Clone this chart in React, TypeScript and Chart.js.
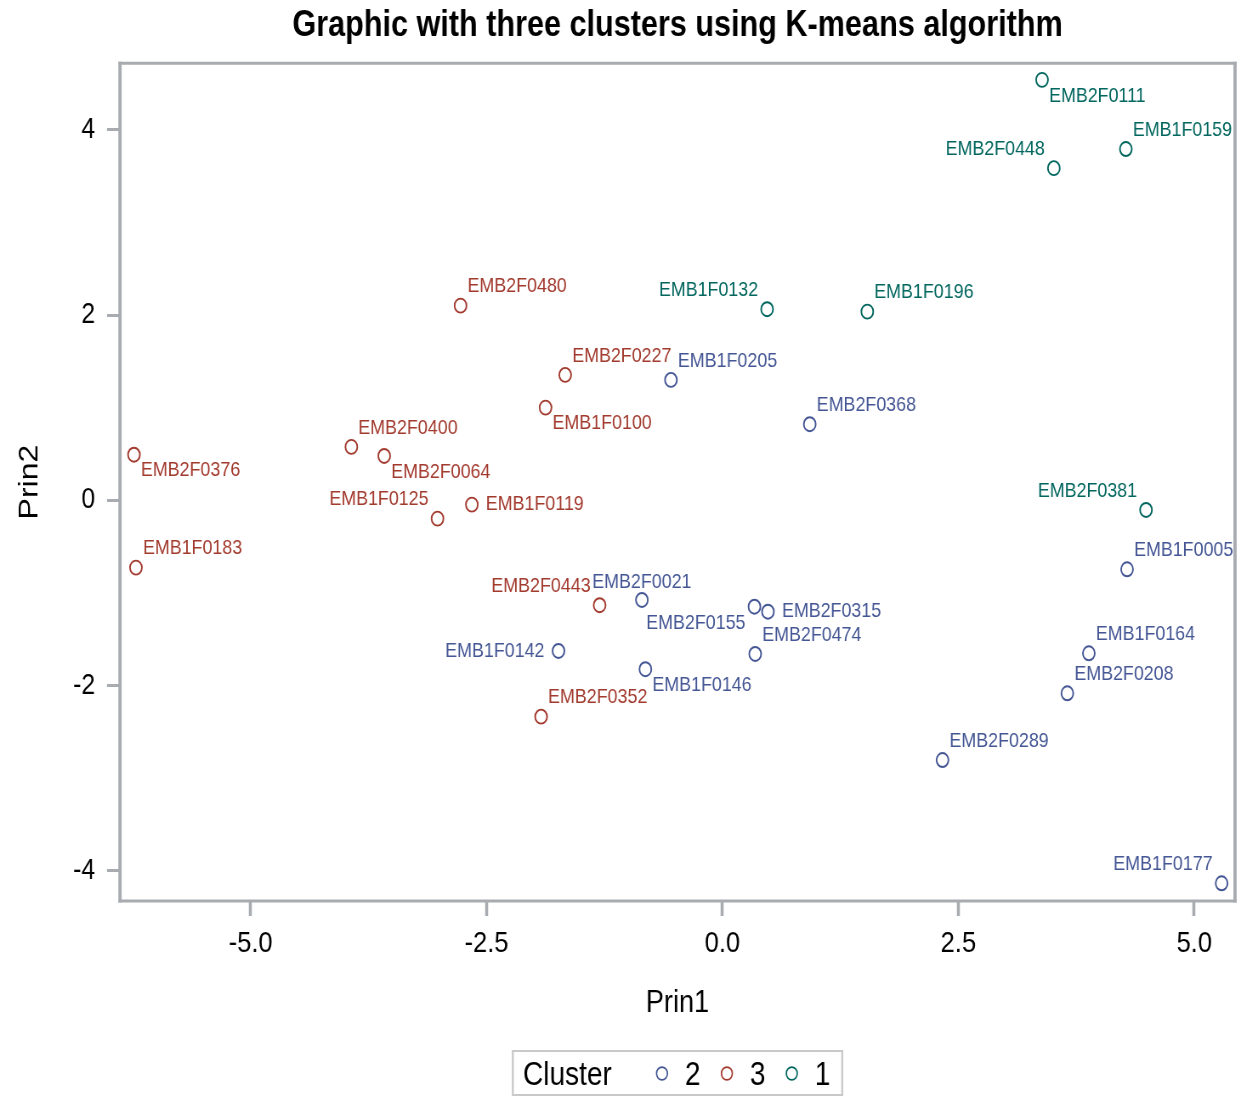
import React, { useEffect, useRef } from "react";
import { Chart, registerables } from "chart.js";

Chart.register(...registerables);

// ---------- page geometry ----------
const SQUISH = 0.85; // the reference is horizontally condensed
const VIEW_W = 1243;
const VIEW_H = 1097;
const CANVAS_W = Math.round(VIEW_W / SQUISH);
const PLOT_LEFT = 120 / SQUISH;
const PLOT_RIGHT = 1235 / SQUISH;
const PLOT_BOTTOM = 901;
const FONT = "'Liberation Sans', Arial, Helvetica, sans-serif";
const AXIS_COLOR = "#a8acb0";

// ---------- texts ----------
const TITLE = "Graphic with three clusters using K-means algorithm";
const X_TITLE = "Prin1";
const Y_TITLE = "Prin2";
const LEGEND_TITLE = "Cluster";

// ---------- axes ----------
const X_TICKS = [-5, -2.5, 0, 2.5, 5];
const Y_TICKS = [-4, -2, 0, 2, 4];
const X_MIN = -6.385;
const X_MAX = 5.432;
const Y_MIN = -4.324;
const Y_MAX = 4.72;

// ---------- series (legend order: 2, 3, 1) ----------
const CLUSTERS = ["2", "3", "1"];
const CLUSTER_COLORS = ["#445694", "#A23A2E", "#01665E"];

// Cluster 2
const C2_NAMES = ["EMB1F0205", "EMB2F0368", "EMB2F0021", "EMB2F0155", "EMB2F0315", "EMB2F0474", "EMB1F0146", "EMB1F0142", "EMB1F0005", "EMB1F0164", "EMB2F0208", "EMB2F0289", "EMB1F0177"];
const C2_X = [-0.546, 0.925, -0.854, 0.339, 0.482, 0.347, -0.817, -1.738, 4.288, 3.883, 3.655, 2.332, 5.29];
const C2_Y = [1.301, 0.823, -1.074, -1.147, -1.201, -1.657, -1.822, -1.625, -0.743, -1.65, -2.082, -2.802, -4.133];
const C2_LABEL_SIDE = ["ur", "ur", "uc", "ll", "r", "ur", "lr", "l", "ur", "ur", "ur", "ur", "ul"];

// Cluster 3
const C3_NAMES = ["EMB2F0480", "EMB2F0227", "EMB1F0100", "EMB2F0400", "EMB2F0064", "EMB2F0376", "EMB1F0125", "EMB1F0119", "EMB1F0183", "EMB2F0443", "EMB2F0352"];
const C3_X = [-2.776, -1.667, -1.875, -3.933, -3.585, -6.237, -3.02, -2.656, -6.216, -1.302, -1.922];
const C3_Y = [2.103, 1.355, 1.002, 0.578, 0.48, 0.494, -0.196, -0.045, -0.725, -1.131, -2.334];
const C3_LABEL_SIDE = ["ur", "ur", "lr", "ur", "lr", "lr", "ul", "r", "ur", "ul", "ur"];

// Cluster 1
const C1_NAMES = ["EMB2F0111", "EMB1F0159", "EMB2F0448", "EMB1F0132", "EMB1F0196", "EMB2F0381"];
const C1_X = [3.387, 4.275, 3.512, 0.473, 1.535, 4.489];
const C1_Y = [4.54, 3.793, 3.587, 2.064, 2.038, -0.103];
const C1_LABEL_SIDE = ["lr", "ur", "ul", "ul", "ur", "ul"];

// label placement relative to the marker (screen px)
const LABEL_OFFSETS: Record<string, { dx: number; dy: number; align: CanvasTextAlign }> = {
  ur: { dx: 7, dy: -19, align: "left" },
  lr: { dx: 7, dy: 16, align: "left" },
  ul: { dx: -9, dy: -19, align: "right" },
  ll: { dx: -9, dy: 17, align: "right" },
  r: { dx: 14, dy: 0, align: "left" },
  l: { dx: -14, dy: 0, align: "right" },
  uc: { dx: 0, dy: -18, align: "center" },
};

const framePlugin = {
  id: "frame",
  beforeDatasetsDraw(chart: any) {
    const { ctx, chartArea: a } = chart;
    ctx.save();
    ctx.strokeStyle = AXIS_COLOR;
    ctx.lineCap = "butt";
    const vw = 3.3 / SQUISH;
    ctx.lineWidth = vw;
    ctx.beginPath();
    ctx.moveTo(a.left, a.top - 1.5);
    ctx.lineTo(a.left, a.bottom + 1.5);
    ctx.moveTo(a.right, a.top - 1.5);
    ctx.lineTo(a.right, a.bottom + 1.5);
    ctx.stroke();
    ctx.lineWidth = 3;
    ctx.beginPath();
    ctx.moveTo(a.left - vw / 2, a.top);
    ctx.lineTo(a.right + vw / 2, a.top);
    ctx.moveTo(a.left - vw / 2, a.bottom);
    ctx.lineTo(a.right + vw / 2, a.bottom);
    ctx.stroke();
    ctx.restore();
  },
};

const labelPlugin = {
  id: "pointLabels",
  afterDatasetsDraw(chart: any) {
    const ctx = chart.ctx;
    ctx.save();
    ctx.font = `21px ${FONT}`;
    ctx.textBaseline = "middle";
    chart.data.datasets.forEach((ds: any, i: number) => {
      const meta = chart.getDatasetMeta(i);
      ctx.fillStyle = ds.borderColor;
      meta.data.forEach((pt: any, j: number) => {
        const o = LABEL_OFFSETS[ds.labelSides[j]];
        ctx.textAlign = o.align;
        ctx.fillText(ds.names[j], pt.x + o.dx / SQUISH, pt.y + o.dy);
      });
    });
    ctx.restore();
  },
};

const legendPlugin = {
  id: "clusterLegend",
  afterDraw(chart: any) {
    const { ctx, chartArea: a } = chart;
    const datasets = chart.data.datasets;
    ctx.save();
    ctx.font = `33px ${FONT}`;
    const titleW = ctx.measureText(LEGEND_TITLE).width;
    const itemWs = datasets.map((d: any) => ctx.measureText(d.label).width);
    const padL = 12, padR = 14, gapTitle = 52, markerToText = 34, gapItems = 24;
    let total = padL + titleW + gapTitle + padR;
    itemWs.forEach((w: number, i: number) => {
      total += markerToText + w + (i > 0 ? gapItems : 0);
    });
    const cx = (a.left + a.right) / 2;
    const left = cx - total / 2;
    const top = 1051, bottom = 1095, mid = 1074.5;
    // box
    ctx.strokeStyle = "#c9c9c9";
    ctx.lineWidth = 2;
    ctx.beginPath();
    ctx.moveTo(left, top);
    ctx.lineTo(left + total, top);
    ctx.moveTo(left, bottom);
    ctx.lineTo(left + total, bottom);
    ctx.stroke();
    ctx.lineWidth = 2 / SQUISH;
    ctx.beginPath();
    ctx.moveTo(left, top - 1);
    ctx.lineTo(left, bottom + 1);
    ctx.moveTo(left + total, top - 1);
    ctx.lineTo(left + total, bottom + 1);
    ctx.stroke();
    // texts
    ctx.fillStyle = "#000";
    ctx.textBaseline = "middle";
    ctx.textAlign = "left";
    let x = left + padL;
    ctx.fillText(LEGEND_TITLE, x, mid + 1);
    x += titleW + gapTitle;
    datasets.forEach((d: any, i: number) => {
      if (i > 0) x += gapItems;
      ctx.strokeStyle = d.borderColor;
      ctx.lineWidth = 1.7;
      ctx.beginPath();
      ctx.arc(x + 7, mid - 1, 6.4, 0, Math.PI * 2);
      ctx.stroke();
      ctx.fillStyle = "#000";
      ctx.fillText(d.label, x + markerToText, mid + 1);
      x += markerToText + itemWs[i];
    });
    ctx.restore();
  },
};

export default function App() {
  const ref = useRef<HTMLCanvasElement>(null);

  useEffect(() => {
    const canvas = ref.current;
    if (!canvas) return;
    const groups = [
      { names: C2_NAMES, xs: C2_X, ys: C2_Y, sides: C2_LABEL_SIDE },
      { names: C3_NAMES, xs: C3_X, ys: C3_Y, sides: C3_LABEL_SIDE },
      { names: C1_NAMES, xs: C1_X, ys: C1_Y, sides: C1_LABEL_SIDE },
    ];
    const datasets: any[] = groups.map((g, i) => ({
      label: CLUSTERS[i],
      data: g.xs.map((x, j) => ({ x, y: g.ys[j] })),
      names: g.names,
      labelSides: g.sides,
      borderColor: CLUSTER_COLORS[i],
      backgroundColor: "rgba(0,0,0,0)",
      pointStyle: "circle",
      pointRadius: 7,
      pointHoverRadius: 7,
      pointBorderWidth: 1.9,
      showLine: false,
    }));

    const chart = new Chart(canvas, {
      type: "scatter",
      data: { datasets },
      options: {
        animation: false,
        responsive: false,
        devicePixelRatio: 1,
        events: [],
        layout: { padding: { left: 0, right: CANVAS_W - PLOT_RIGHT, top: 0, bottom: 0 } },
        plugins: {
          legend: { display: false },
          tooltip: { enabled: false },
          title: {
            display: true,
            text: TITLE,
            fullSize: false,
            color: "#000",
            font: { family: FONT, size: 36, weight: "bold" },
            padding: { top: 4, bottom: 16 },
          },
        },
        scales: {
          x: {
            type: "linear",
            position: "bottom",
            min: X_MIN,
            max: X_MAX,
            afterBuildTicks: (s: any) => {
              s.ticks = X_TICKS.map((v) => ({ value: v }));
            },
            afterFit: (s: any) => {
              s.height = VIEW_H - PLOT_BOTTOM;
            },
            ticks: {
              autoSkip: false,
              maxRotation: 0,
              padding: 10,
              color: "#000",
              font: { family: FONT, size: 30 },
              callback: (v: any) => Number(v).toFixed(1),
            },
            grid: {
              drawOnChartArea: false,
              drawTicks: true,
              tickLength: 15,
              color: AXIS_COLOR,
              tickWidth: 3 / SQUISH,
            },
            border: { display: false },
            title: {
              display: true,
              text: X_TITLE,
              color: "#000",
              font: { family: FONT, size: 32 },
              padding: { top: 0, bottom: 75 },
            },
          },
          y: {
            type: "linear",
            position: "left",
            min: Y_MIN,
            max: Y_MAX,
            afterBuildTicks: (s: any) => {
              s.ticks = Y_TICKS.map((v) => ({ value: v }));
            },
            afterFit: (s: any) => {
              s.width = PLOT_LEFT;
            },
            ticks: {
              autoSkip: false,
              padding: 14,
              color: "#000",
              font: { family: FONT, size: 29 },
              callback: (v: any) => String(v),
            },
            grid: {
              drawOnChartArea: false,
              drawTicks: true,
              tickLength: 13 / SQUISH,
              color: AXIS_COLOR,
              tickWidth: 3,
            },
            border: { display: false },
            title: {
              display: true,
              text: Y_TITLE,
              color: "#000",
              font: { family: FONT, size: 32 },
              padding: { top: 16, bottom: 0 },
            },
          },
        },
      } as any,
      plugins: [framePlugin, labelPlugin, legendPlugin],
    });
    return () => chart.destroy();
  }, []);

  return (
    <div
      style={{
        position: "fixed",
        left: 0,
        top: 0,
        width: VIEW_W,
        height: VIEW_H,
        overflow: "hidden",
        background: "#fff",
      }}
    >
      <canvas
        ref={ref}
        width={CANVAS_W}
        height={VIEW_H}
        style={{
          display: "block",
          width: CANVAS_W,
          height: VIEW_H,
          transform: `scaleX(${SQUISH})`,
          transformOrigin: "0 0",
        }}
      />
    </div>
  );
}
